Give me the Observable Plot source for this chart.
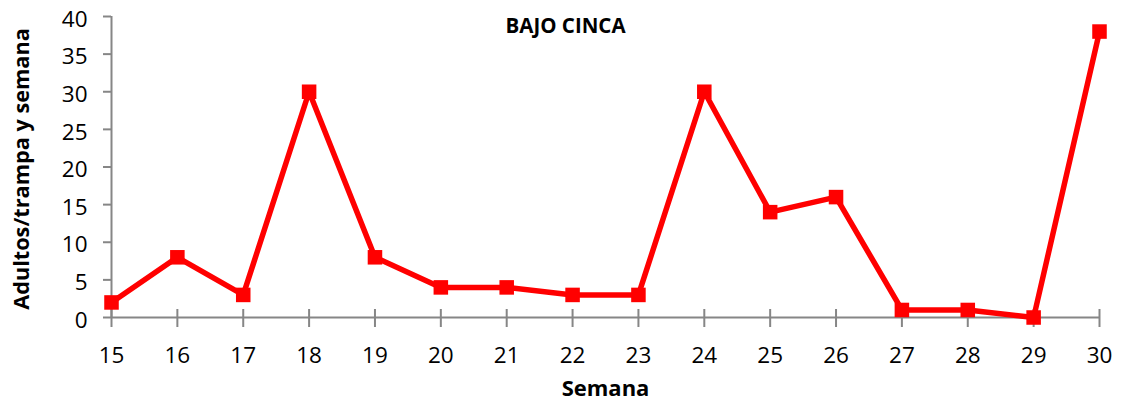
<!DOCTYPE html>
<html><head><meta charset="utf-8">
<script src="https://cdn.jsdelivr.net/npm/d3@7"></script>
<script src="https://cdn.jsdelivr.net/npm/@observablehq/plot@0.6"></script>
<style>body{margin:0;background:#fff}</style>
</head><body><div id="chart"></div>
<script>
const weeks = [15,16,17,18,19,20,21,22,23,24,25,26,27,28,29,30];
const adults = [2,8,3,30,8,4,4,3,3,30,14,16,1,1,0,38];
const yTicks = [0,5,10,15,20,25,30,35,40];
const title = "BAJO CINCA";
const xLabel = "Semana";
const yLabel = "Adultos/trampa y semana";

const data = weeks.map((w, i) => ({week: w, value: adults[i]}));
const axisColor = "#868686";
const red = "#ff0000";

const chart = Plot.plot({
  width: 1125, height: 403,
  marginLeft: 111, marginRight: 26, marginTop: 16, marginBottom: 86,
  style: {fontFamily: "'Open Sans', sans-serif", background: "#fff", color: "#000"},
  x: {domain: [15, 30]},
  y: {domain: [0, 40]},
  marks: [
    Plot.axisY({ticks: yTicks, tickSize: 8, tickFormat: () => "", stroke: axisColor, strokeWidth: 2, label: null}),
    Plot.axisY({ticks: yTicks, tickSize: 0, tickPadding: 24, dy: 3, fontSize: 22.5, fill: "#000", label: null}),
    Plot.axisX({ticks: weeks, tickSize: 18, dy: -8, tickFormat: () => "", stroke: axisColor, strokeWidth: 2, label: null}),
    Plot.axisX({ticks: weeks, tickSize: 0, tickPadding: 30, fontSize: 22.5, fill: "#000", label: null}),
    Plot.ruleY([0], {stroke: axisColor, strokeWidth: 2}),
    Plot.ruleX([15], {stroke: axisColor, strokeWidth: 2}),
    Plot.line(data, {x: "week", y: "value", stroke: red, strokeWidth: 5.5}),
    Plot.dot(data, {x: "week", y: "value", symbol: "square", r: 8.2, fill: red, stroke: "none"}),
    Plot.text([title], {frameAnchor: "top", dx: -40, dy: 10, text: d => d, fontWeight: "bold", fontSize: 20.5, lineAnchor: "middle"}),
    Plot.text([xLabel], {frameAnchor: "bottom", dy: 71, text: d => d, fontWeight: "bold", fontSize: 22, lineAnchor: "middle"}),
    Plot.text([yLabel], {frameAnchor: "left", dx: -89, dy: 2, rotate: -90, text: d => d, fontWeight: "bold", fontSize: 21.7, textAnchor: "middle", lineAnchor: "middle"})
  ]
});
document.getElementById("chart").appendChild(chart);
</script>
</body></html>
